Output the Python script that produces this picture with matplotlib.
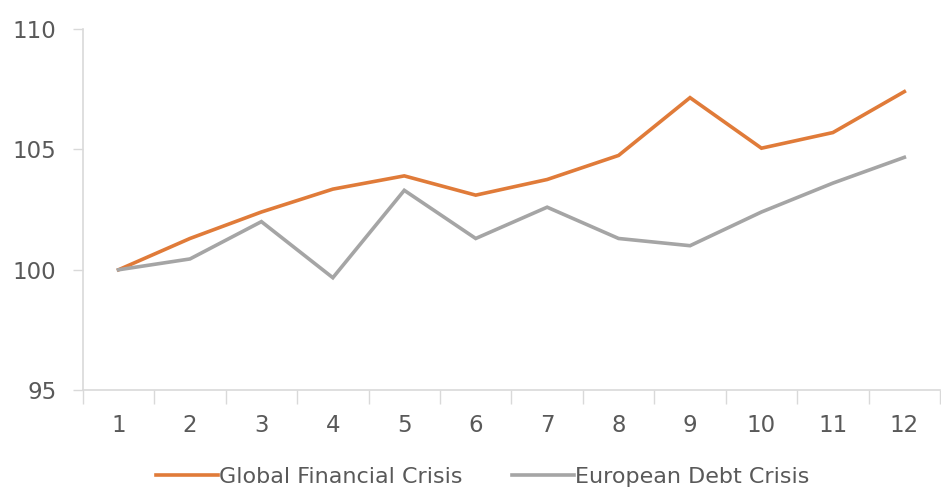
import numpy as np
import matplotlib
matplotlib.use("Agg")
import matplotlib.pyplot as plt
from matplotlib.ticker import FixedLocator

plt.rcParams['font.family'] = ['DejaVu Sans']

months = list(range(1, 13))
gfc = [100.0, 101.3, 102.4, 103.35, 103.9, 103.1, 103.75, 104.75, 107.15, 105.05, 105.7, 107.4]
edc = [100.0, 100.45, 102.0, 99.67, 103.3, 101.3, 102.6, 101.3, 101.0, 102.4, 103.6, 104.67]

orange = '#E07B39'
grey = '#A5A5A5'
axis_col = '#D9D9D9'
text_col = '#595959'

fig = plt.figure(figsize=(9.41, 4.92), dpi=100)
ax = fig.add_axes([0.088, 0.207, 0.911, 0.734])

ax.plot(months, gfc, color=orange, lw=2.6, label='Global Financial Crisis', solid_joinstyle='miter')
ax.plot(months, edc, color=grey, lw=2.6, label='European Debt Crisis', solid_joinstyle='miter')

ax.set_xlim(0.5, 12.5)
ax.set_ylim(95, 110)
ax.set_yticks([95, 100, 105, 110])

# category boundaries get the tick marks, labels sit at the centres
ax.xaxis.set_major_locator(FixedLocator(np.arange(0.5, 13.0, 1.0)))
ax.xaxis.set_minor_locator(FixedLocator(months))
ax.set_xticklabels([])
ax.set_xticklabels([str(m) for m in months], minor=True)
ax.tick_params(axis='x', which='major', length=10, color=axis_col, width=1)
ax.tick_params(axis='x', which='minor', length=0, pad=17, labelsize=16.5, labelcolor=text_col)
ax.tick_params(axis='y', length=7, color=axis_col, width=1, pad=12, labelsize=16.5, labelcolor=text_col)

for s in ['top', 'right']:
    ax.spines[s].set_visible(False)
for s in ['left', 'bottom']:
    ax.spines[s].set_color(axis_col)
    ax.spines[s].set_linewidth(1.2)

fig.legend(loc='center', bbox_to_anchor=(0.513, 0.03), ncol=2, frameon=False,
           fontsize=16, handlelength=2.8, handletextpad=0.05, columnspacing=2.2,
           labelcolor=text_col)

fig.savefig('out.png', dpi=100)
